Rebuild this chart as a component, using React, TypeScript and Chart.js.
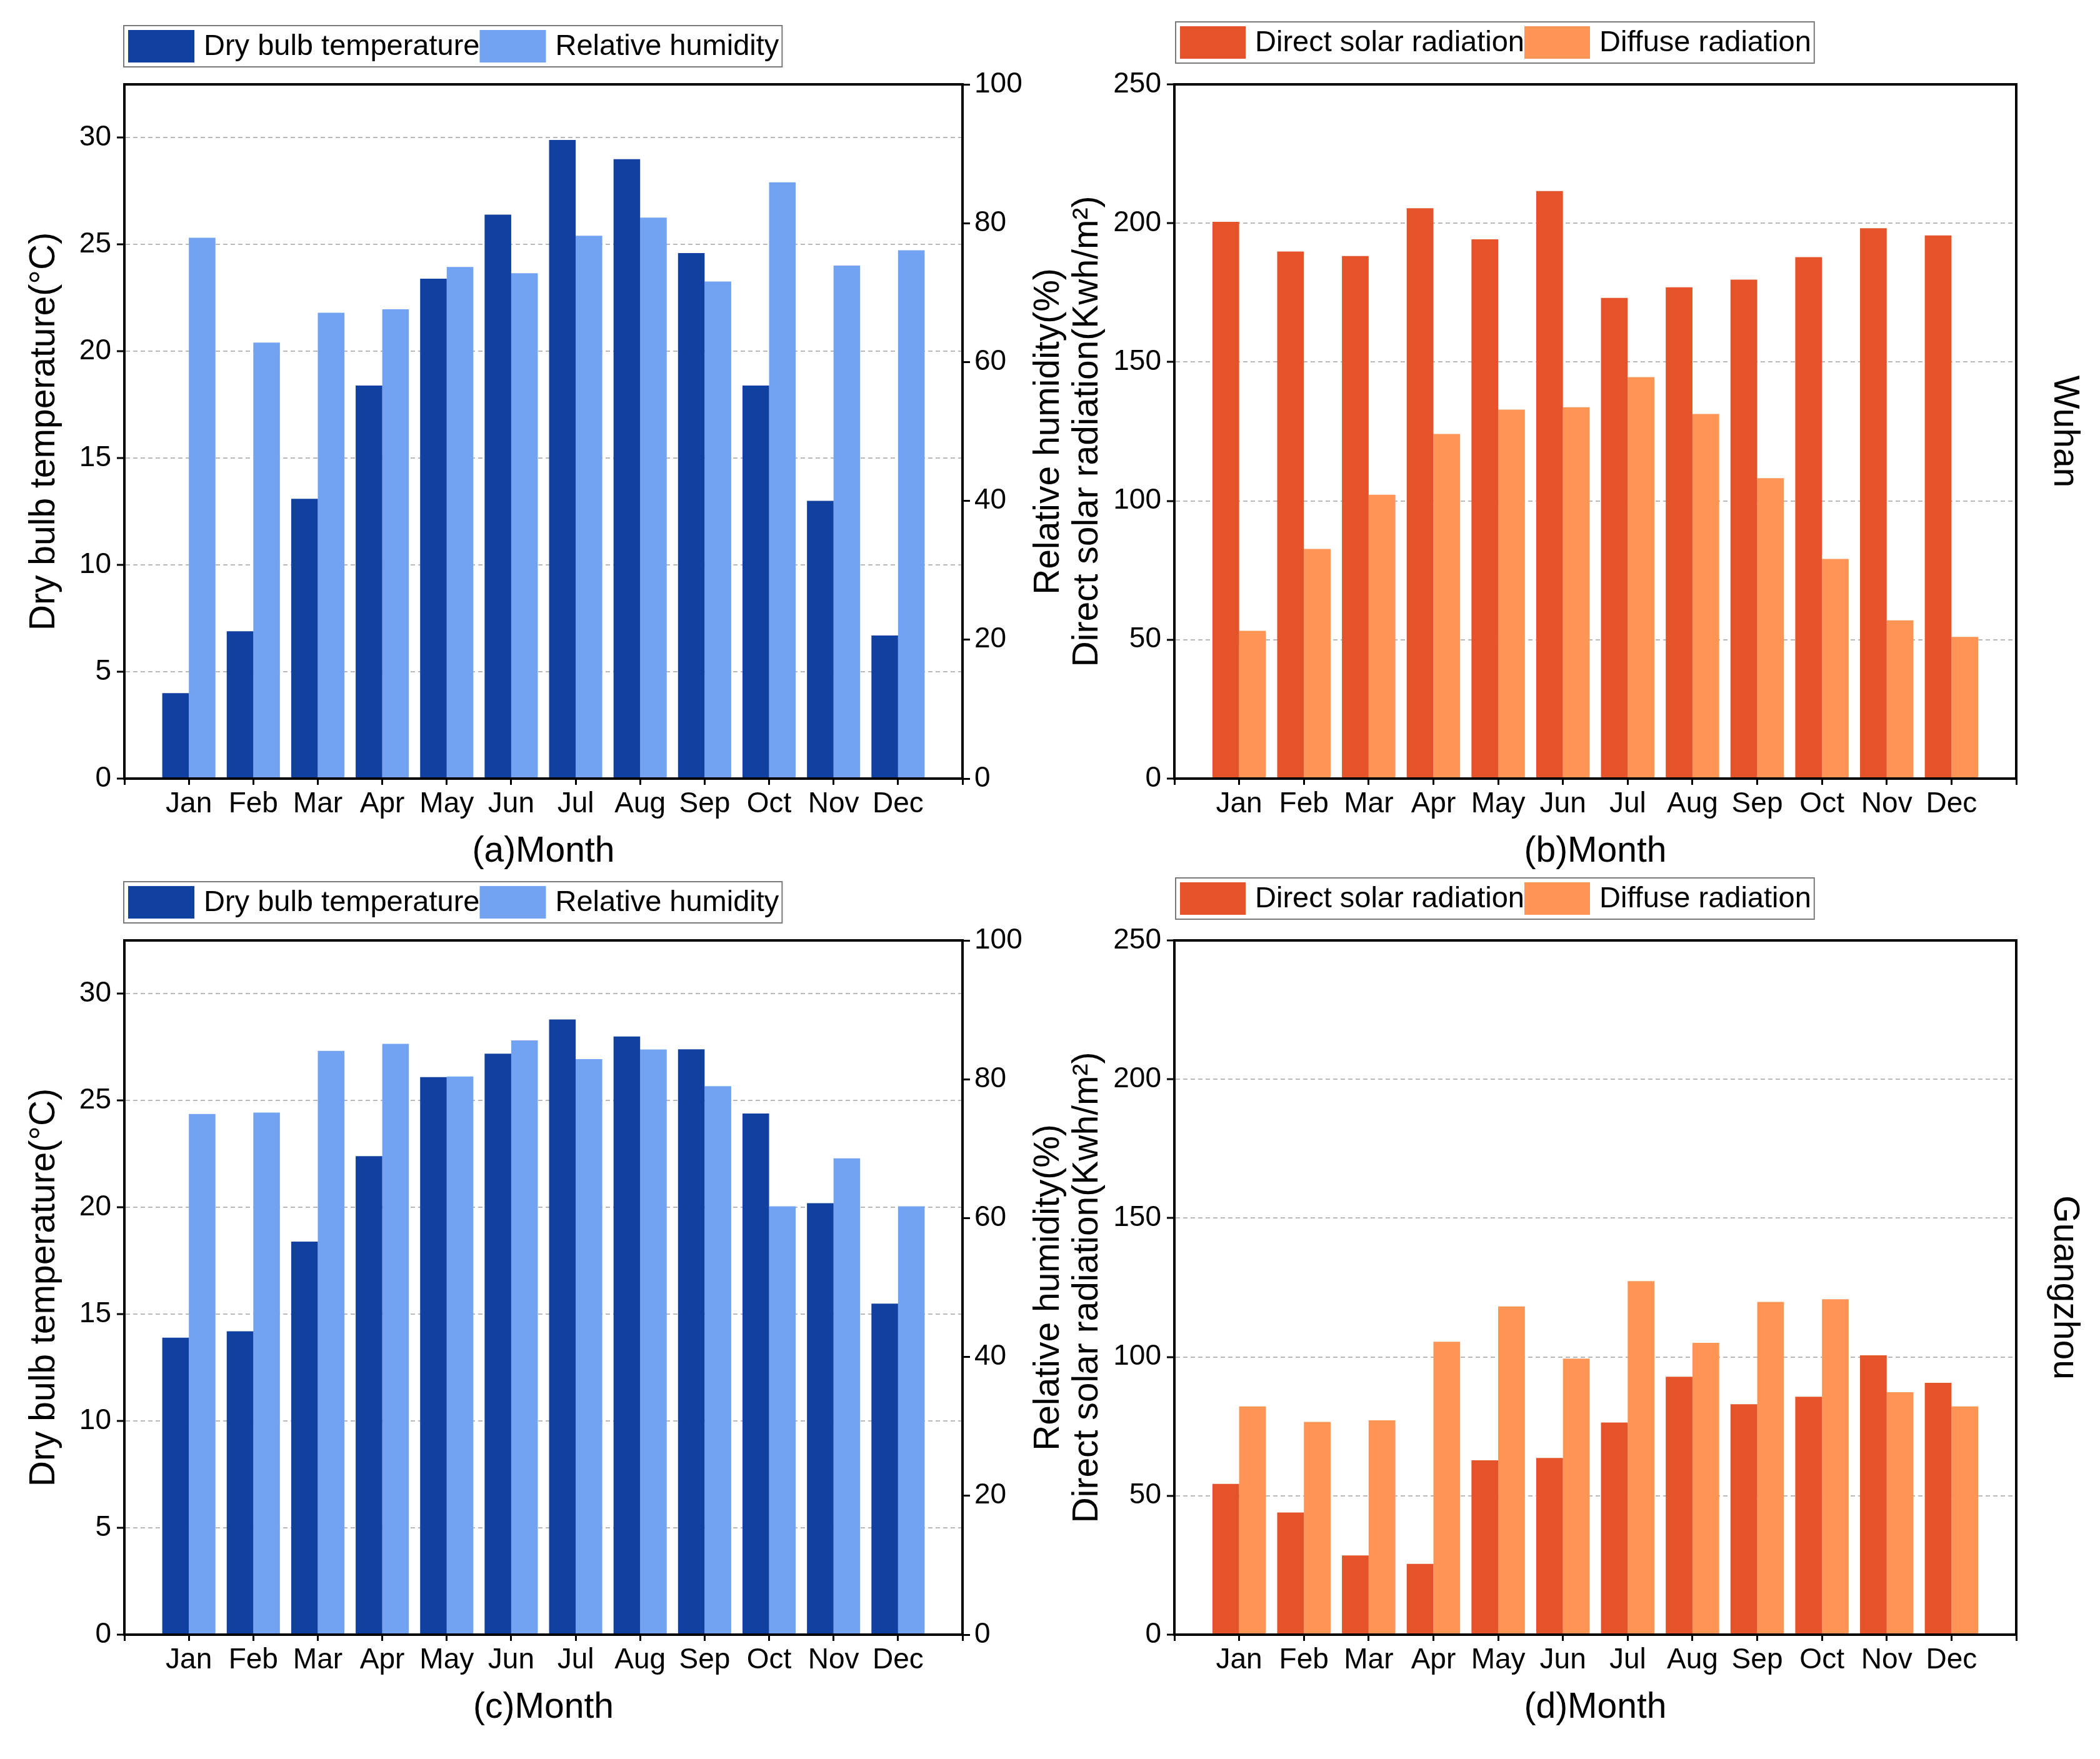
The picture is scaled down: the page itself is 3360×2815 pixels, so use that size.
import React, { useEffect, useRef } from 'react';
import { Chart, registerables } from 'chart.js';

Chart.register(...registerables);

const FONT = '"Liberation Sans", Arial, Helvetica, sans-serif';
Chart.defaults.font.family = FONT;
Chart.defaults.color = '#000';

// ---------- data ----------
const MONTHS = ['Jan', 'Feb', 'Mar', 'Apr', 'May', 'Jun', 'Jul', 'Aug', 'Sep', 'Oct', 'Nov', 'Dec'];

const WUHAN_TEMP = [4.0, 6.9, 13.1, 18.4, 23.4, 26.4, 29.9, 29.0, 24.6, 18.4, 13.0, 6.7];
const WUHAN_RH = [77.9, 62.8, 67.1, 67.6, 73.7, 72.8, 78.2, 80.8, 71.6, 85.9, 73.9, 76.1];
const WUHAN_DIRECT = [200.5, 189.8, 188.2, 205.4, 194.2, 211.6, 173.1, 176.9, 179.7, 187.8, 198.2, 195.6];
const WUHAN_DIFFUSE = [53.2, 82.7, 102.2, 124.1, 132.9, 133.7, 144.6, 131.3, 108.2, 79.1, 57.0, 51.0];

const GZ_TEMP = [13.9, 14.2, 18.4, 22.4, 26.1, 27.2, 28.8, 28.0, 27.4, 24.4, 20.2, 15.5];
const GZ_RH = [75.0, 75.2, 84.1, 85.1, 80.4, 85.6, 82.9, 84.3, 79.0, 61.7, 68.6, 61.7];
const GZ_DIRECT = [54.3, 44.0, 28.5, 25.5, 62.8, 63.6, 76.4, 92.9, 83.0, 85.7, 100.6, 90.7];
const GZ_DIFFUSE = [82.2, 76.6, 77.2, 105.5, 118.2, 99.4, 127.3, 105.1, 119.8, 120.8, 87.3, 82.2];

// axis ranges / tick steps
const TEMP_MAX = 32.5;
const TEMP_STEP = 5;
const RH_MAX = 100;
const RH_STEP = 20;
const RAD_MAX = 250;
const RAD_STEP = 50;

// ---------- styles ----------
const DARK_BLUE = '#1041A1';
const LIGHT_BLUE = '#72A3F3';
const RED_ORANGE = '#E5532A';
const LIGHT_ORANGE = '#FF9555';
const GRID_COLOR = '#b9b9b9';

const AXIS_LABELS = ['', ...MONTHS, ''];
const pad = (arr: number[]) => [null, ...arr, null];

// ---------- plugins ----------
const framePlugin = {
  id: 'frame',
  afterDatasetsDraw(chart: any) {
    const { ctx, chartArea: a } = chart;
    ctx.save();
    ctx.strokeStyle = '#000';
    ctx.lineWidth = 4;
    ctx.strokeRect(a.left, a.top, a.right - a.left, a.bottom - a.top);
    ctx.restore();
  },
};

const boxLegend = {
  id: 'boxLegend',
  afterDraw(chart: any, _args: any, opts: any) {
    if (!opts || !opts.show) return;
    const { ctx, chartArea } = chart;
    ctx.save();
    ctx.font = `${opts.fontSize}px ${FONT}`;
    ctx.textBaseline = 'middle';
    ctx.textAlign = 'left';
    const left = chartArea.left + opts.dx;
    const top = chartArea.top + opts.dy;
    const h = opts.height;
    let x = left + opts.inset;
    chart.data.datasets.forEach((ds: any, i: number) => {
      ctx.fillStyle = ds.backgroundColor;
      ctx.fillRect(x, top + opts.inset, opts.swatchW, h - 2 * opts.inset);
      x += opts.swatchW + opts.textGap;
      ctx.fillStyle = '#000';
      ctx.fillText(ds.label, x, top + h / 2 + 1);
      x += ctx.measureText(ds.label).width;
      if (i < chart.data.datasets.length - 1) x += opts.itemGap;
    });
    x += opts.endPad;
    ctx.strokeStyle = '#7a7a7a';
    ctx.lineWidth = 2;
    ctx.strokeRect(left, top, x - left, h);
    ctx.restore();
  },
};

const sideTitle = {
  id: 'sideTitle',
  afterDraw(chart: any, _args: any, opts: any) {
    if (!opts || !opts.text) return;
    const { ctx, chartArea: a } = chart;
    ctx.save();
    ctx.font = `${opts.size}px ${FONT}`;
    ctx.fillStyle = '#000';
    ctx.textAlign = 'center';
    ctx.textBaseline = 'middle';
    ctx.translate(a.right + opts.dx, (a.top + a.bottom) / 2);
    ctx.rotate(opts.rotation);
    ctx.fillText(opts.text, 0, 0);
    ctx.restore();
  },
};

// ---------- shared option builders ----------
const TICK_FONT = { size: 46 };
const TITLE_FONT = { size: 57 };
const CHART_AREA_TOP = 135;
const CANVAS_H = 1400;
const CHART_AREA_BOTTOM = 1246;

function xScale(title: string) {
  return {
    type: 'category',
    offset: false,
    grid: {
      display: true,
      offset: false,
      drawOnChartArea: false,
      drawTicks: true,
      tickLength: 10,
      tickWidth: 3,
      tickColor: '#000',
    },
    border: { display: true, color: '#000', width: 4 },
    ticks: { autoSkip: false, maxRotation: 0, minRotation: 0, padding: 4, font: TICK_FONT, color: '#000' },
    title: { display: true, text: title, font: TITLE_FONT, color: '#000', padding: { top: 0, bottom: 3 } },
    afterFit: (s: any) => {
      s.height = CANVAS_H - CHART_AREA_BOTTOM;
    },
  };
}

function leftScale(max: number, step: number, title: string, titlePad: number, width: number) {
  return {
    type: 'linear',
    position: 'left',
    min: 0,
    max,
    ticks: { stepSize: step, padding: 9, font: TICK_FONT, color: '#000' },
    afterBuildTicks: (s: any) => {
      s.ticks = s.ticks.filter((t: any) => Math.abs(t.value / step - Math.round(t.value / step)) < 1e-6);
    },
    grid: {
      display: true,
      drawOnChartArea: true,
      drawTicks: true,
      color: (c: any) =>
        c.tick && c.tick.value > 0 && c.tick.value < max ? GRID_COLOR : 'rgba(0,0,0,0)',
      lineWidth: 2,
      tickLength: 12,
      tickWidth: 3,
      tickColor: '#000',
    },
    border: { display: true, color: '#000', width: 4, dash: [7, 5] },
    title: { display: true, text: title, font: TITLE_FONT, color: '#000', padding: { top: titlePad, bottom: 0 } },
    afterFit: (s: any) => {
      s.width = width;
    },
  };
}

function tempHumConfig(temp: number[], hum: number[], xTitle: string) {
  return {
    type: 'bar',
    data: {
      labels: AXIS_LABELS,
      datasets: [
        {
          label: 'Dry bulb temperature',
          data: pad(temp),
          backgroundColor: DARK_BLUE,
          yAxisID: 'y',
          categoryPercentage: 0.825,
          barPercentage: 1,
          borderWidth: 0,
        },
        {
          label: 'Relative humidity',
          data: pad(hum),
          backgroundColor: LIGHT_BLUE,
          yAxisID: 'y1',
          categoryPercentage: 0.825,
          barPercentage: 1,
          borderWidth: 0,
        },
      ],
    },
    options: {
      responsive: false,
      animation: false,
      devicePixelRatio: 1,
      layout: { padding: { top: CHART_AREA_TOP, left: 0, right: 0, bottom: 0 } },
      scales: {
        x: xScale(xTitle),
        y: leftScale(TEMP_MAX, TEMP_STEP, 'Dry bulb temperature(°C)', 37, 199),
        y1: {
          type: 'linear',
          position: 'right',
          min: 0,
          max: RH_MAX,
          ticks: { stepSize: RH_STEP, padding: 7, font: TICK_FONT, color: '#000' },
          grid: {
            display: true,
            drawOnChartArea: false,
            drawTicks: true,
            tickLength: 12,
            tickWidth: 3,
            tickColor: '#000',
          },
          border: { display: true, color: '#000', width: 4 },
          title: { display: false },
          afterFit: (s: any) => {
            s.width = 180;
          },
        },
      },
      plugins: {
        legend: { display: false },
        tooltip: { enabled: false },
        boxLegend: {
          show: true,
          fontSize: 47,
          dx: -1,
          dy: -94,
          height: 66,
          inset: 7,
          swatchW: 106,
          textGap: 15,
          itemGap: 0,
          endPad: 5,
        },
        sideTitle: { text: 'Relative humidity(%)', size: 57, dx: 138, rotation: -Math.PI / 2 },
      },
    },
    plugins: [framePlugin, boxLegend, sideTitle],
  };
}

function radiationConfig(direct: number[], diffuse: number[], xTitle: string, city: string) {
  return {
    type: 'bar',
    data: {
      labels: AXIS_LABELS,
      datasets: [
        {
          label: 'Direct solar radiation',
          data: pad(direct),
          backgroundColor: RED_ORANGE,
          categoryPercentage: 0.825,
          barPercentage: 1,
          borderWidth: 0,
        },
        {
          label: 'Diffuse radiation',
          data: pad(diffuse),
          backgroundColor: LIGHT_ORANGE,
          categoryPercentage: 0.825,
          barPercentage: 1,
          borderWidth: 0,
        },
      ],
    },
    options: {
      responsive: false,
      animation: false,
      devicePixelRatio: 1,
      layout: { padding: { top: CHART_AREA_TOP, left: 0, right: 134, bottom: 0 } },
      scales: {
        x: xScale(xTitle),
        y: leftScale(RAD_MAX, RAD_STEP, 'Direct solar radiation(Kwh/m²)', 16, 189),
      },
      plugins: {
        legend: { display: false },
        tooltip: { enabled: false },
        boxLegend: {
          show: true,
          fontSize: 47,
          dx: 2,
          dy: -100,
          height: 66,
          inset: 7,
          swatchW: 105,
          textGap: 15,
          itemGap: 0,
          endPad: 5,
        },
        sideTitle: { text: city, size: 57, dx: 77, rotation: Math.PI / 2 },
      },
    },
    plugins: [framePlugin, boxLegend, sideTitle],
  };
}

function Panel({ left, top, width, height, config }: any) {
  const ref = useRef<HTMLCanvasElement | null>(null);
  useEffect(() => {
    if (!ref.current) return;
    const chart = new Chart(ref.current, config);
    return () => chart.destroy();
  }, []);
  return (
    <canvas
      ref={ref}
      width={width}
      height={height}
      style={{ position: 'absolute', left, top, width, height }}
    />
  );
}

export default function App() {
  return (
    <div
      style={{
        position: 'absolute',
        left: 0,
        top: 0,
        width: 3360,
        height: 2815,
        background: '#ffffff',
        overflow: 'hidden',
      }}
    >
      <Panel left={0} top={0} width={1720} height={CANVAS_H} config={tempHumConfig(WUHAN_TEMP, WUHAN_RH, '(a)Month')} />
      <Panel
        left={1690}
        top={0}
        width={1670}
        height={CANVAS_H}
        config={radiationConfig(WUHAN_DIRECT, WUHAN_DIFFUSE, '(b)Month', 'Wuhan')}
      />
      <Panel left={0} top={1370} width={1720} height={CANVAS_H} config={tempHumConfig(GZ_TEMP, GZ_RH, '(c)Month')} />
      <Panel
        left={1690}
        top={1370}
        width={1670}
        height={CANVAS_H}
        config={radiationConfig(GZ_DIRECT, GZ_DIFFUSE, '(d)Month', 'Guangzhou')}
      />
    </div>
  );
}
